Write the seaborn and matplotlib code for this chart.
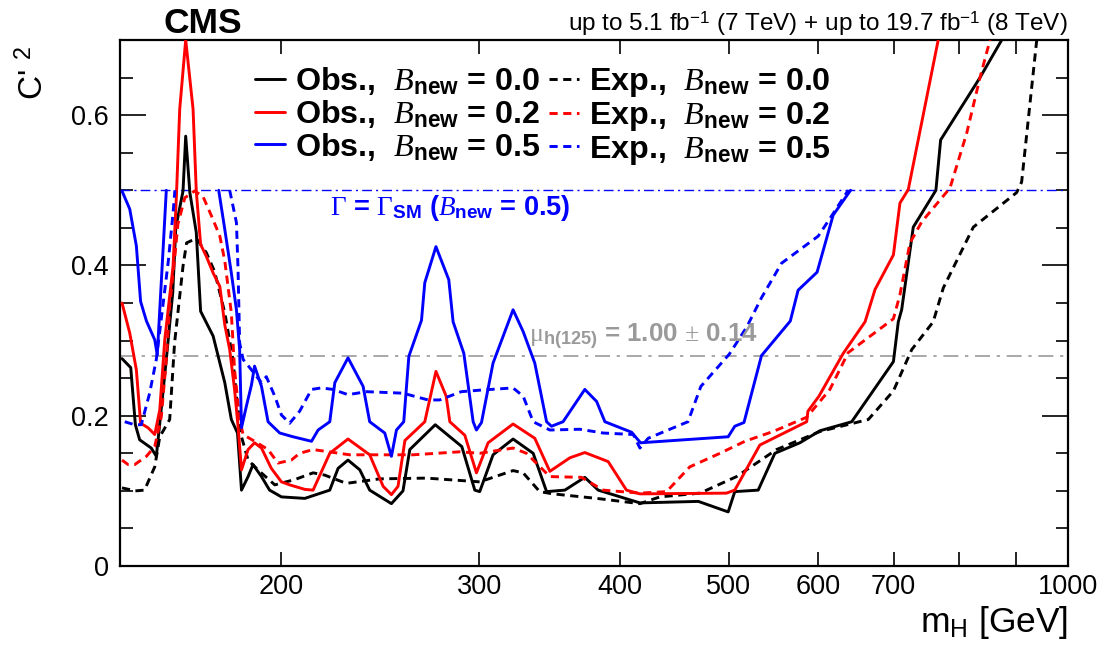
import matplotlib
matplotlib.use("Agg")
import matplotlib.pyplot as plt
from matplotlib.lines import Line2D
from matplotlib.ticker import FixedLocator, FixedFormatter, NullLocator, MultipleLocator, FuncFormatter
import seaborn as sns

# C'^2 limits vs m_H
# B_new = 0.0
m_obs00 = [144.6, 147.2, 148.6, 149.9, 153.5, 155.1, 156.2, 158.3, 160.4, 161.4, 163.8, 164.7, 166.1, 168.3, 169.8,
           174.2, 178.4, 180.8, 183.1, 184.6, 187.1, 189.0, 192.3, 195.5, 200.3, 210.1, 221.1, 224.9, 229.5, 235.1,
           239.9, 250.8, 256.8, 260.4, 274.3, 289.6, 297.4, 300.4, 308.7, 321.6, 335.1, 344.4, 357.5, 372.4, 382.7,
           416.8, 469.7, 499.2, 506.0, 530.8, 549.2, 578.0, 602.2, 642.6, 699.8, 706.8, 711.7, 728.8, 763.3, 770.7,
           835.3, 873.2]
c_obs00 = [0.276, 0.264, 0.188, 0.168, 0.157, 0.146, 0.190, 0.275, 0.364, 0.450, 0.499, 0.572, 0.497, 0.444, 0.339,
           0.306, 0.244, 0.195, 0.177, 0.101, 0.119, 0.135, 0.119, 0.101, 0.092, 0.090, 0.101, 0.130, 0.141, 0.128,
           0.101, 0.083, 0.100, 0.155, 0.188, 0.159, 0.101, 0.099, 0.148, 0.169, 0.150, 0.099, 0.101, 0.118, 0.101,
           0.084, 0.086, 0.072, 0.099, 0.101, 0.150, 0.164, 0.180, 0.192, 0.272, 0.325, 0.341, 0.451, 0.500, 0.567,
           0.650, 0.700]
m_exp00 = [144.6, 148.6, 151.4, 154.6, 156.2, 159.4, 161.0, 163.8, 165.0, 168.3, 171.8, 174.7, 178.4, 181.4, 182.7,
           184.6, 187.1, 190.9, 197.6, 205.8, 213.7, 218.8, 228.7, 244.9, 269.4, 300.4, 321.6, 328.3, 339.6, 349.0,
           381.5, 416.8, 434.2, 471.3, 507.8, 551.1, 602.2, 664.8, 699.8, 726.5, 759.1, 774.9, 824.0, 900.3, 909.5,
           938.0]
c_exp00 = [0.104, 0.100, 0.101, 0.132, 0.172, 0.195, 0.297, 0.399, 0.430, 0.436, 0.417, 0.392, 0.337, 0.275, 0.226,
           0.172, 0.141, 0.128, 0.108, 0.115, 0.124, 0.121, 0.110, 0.116, 0.117, 0.112, 0.127, 0.124, 0.099, 0.096,
           0.090, 0.083, 0.092, 0.097, 0.119, 0.155, 0.179, 0.195, 0.233, 0.288, 0.325, 0.370, 0.451, 0.497, 0.511,
           0.700]

# B_new = 0.2
m_obs02 = [144.6, 146.9, 148.9, 150.2, 152.5, 154.6, 156.2, 157.8, 160.5, 161.6, 162.7, 164.7, 167.2, 168.3, 169.8,
           171.8, 174.2, 176.6, 178.4, 180.2, 182.0, 183.3, 184.6, 187.1, 189.6, 192.3, 196.2, 200.3, 203.7, 210.1,
           213.7, 221.1, 229.5, 239.9, 246.6, 250.8, 254.2, 257.8, 268.5, 274.7, 280.5, 282.6, 291.4, 298.4, 305.6,
           321.6, 336.2, 346.7, 361.2, 372.4, 390.6, 405.5, 416.8, 497.5, 506.0, 532.6, 586.1, 587.6, 601.0, 631.6,
           660.4, 674.0, 699.8, 709.2, 721.4, 766.9]
c_obs02 = [0.350, 0.310, 0.261, 0.190, 0.184, 0.175, 0.208, 0.301, 0.399, 0.492, 0.608, 0.700, 0.608, 0.499, 0.428,
           0.412, 0.390, 0.372, 0.321, 0.288, 0.235, 0.186, 0.128, 0.155, 0.164, 0.157, 0.130, 0.112, 0.108, 0.102,
           0.101, 0.150, 0.169, 0.148, 0.106, 0.095, 0.106, 0.167, 0.192, 0.259, 0.226, 0.192, 0.174, 0.124, 0.164,
           0.189, 0.170, 0.126, 0.144, 0.151, 0.139, 0.101, 0.096, 0.097, 0.101, 0.161, 0.192, 0.206, 0.226, 0.283,
           0.325, 0.368, 0.414, 0.483, 0.501, 0.700]
m_exp02 = [144.6, 146.4, 148.4, 152.0, 154.6, 156.7, 158.3, 159.4, 161.0, 162.1, 164.4, 167.7, 170.6, 173.6, 176.6,
           178.4, 180.8, 182.0, 183.9, 185.2, 189.6, 194.9, 198.9, 204.4, 207.9, 213.7, 230.3, 262.1, 288.4, 300.4,
           321.6, 330.5, 346.7, 369.9, 386.6, 416.8, 440.1, 461.6, 490.9, 516.6, 547.2, 586.1, 614.6, 638.0, 699.8,
           709.2, 723.9, 741.5, 785.6, 812.9, 835.3, 852.6]
c_exp02 = [0.141, 0.135, 0.135, 0.146, 0.159, 0.199, 0.275, 0.346, 0.408, 0.455, 0.490, 0.499, 0.492, 0.466, 0.439,
           0.406, 0.337, 0.261, 0.195, 0.175, 0.166, 0.155, 0.137, 0.141, 0.150, 0.155, 0.148, 0.148, 0.152, 0.150,
           0.157, 0.150, 0.119, 0.118, 0.101, 0.097, 0.099, 0.132, 0.150, 0.166, 0.179, 0.198, 0.235, 0.284, 0.329,
           0.361, 0.430, 0.458, 0.503, 0.576, 0.650, 0.700]

# B_new = 0.5 (only drawn below Gamma = Gamma_SM, two pieces each)
m_obs05_lo = [144.6, 146.9, 148.9, 150.2, 152.0, 154.6, 155.4, 156.2, 158.3]
c_obs05_lo = [0.499, 0.475, 0.426, 0.352, 0.326, 0.301, 0.281, 0.341, 0.500]
m_obs05_hi = [176.2, 178.4, 180.8, 182.7, 183.9, 184.6, 186.4, 188.4, 189.6, 192.3, 194.9, 199.6, 205.1, 213.0, 215.9,
              221.1, 223.4, 229.5, 236.7, 239.9, 247.4, 250.8, 253.4, 257.2, 259.9, 266.7, 268.5, 274.7, 282.0, 284.5,
              290.8, 296.4, 298.4, 301.5, 308.7, 321.6, 328.3, 336.2, 344.4, 347.9, 356.2, 372.4, 381.5, 388.0, 409.8,
              417.3, 499.2, 506.0, 515.6, 534.4, 566.8, 575.9, 598.7, 618.7, 641.1]
c_obs05_hi = [0.500, 0.448, 0.390, 0.341, 0.288, 0.184, 0.212, 0.241, 0.266, 0.239, 0.192, 0.177, 0.172, 0.166, 0.181,
              0.192, 0.244, 0.277, 0.239, 0.192, 0.177, 0.146, 0.181, 0.192, 0.279, 0.327, 0.377, 0.425, 0.381, 0.325,
              0.283, 0.192, 0.181, 0.191, 0.270, 0.341, 0.312, 0.270, 0.192, 0.186, 0.192, 0.235, 0.219, 0.192, 0.178,
              0.164, 0.172, 0.186, 0.191, 0.280, 0.326, 0.367, 0.391, 0.467, 0.500]
m_exp05_lo = [145.4, 148.4, 150.4, 153.0, 155.1, 157.3, 158.9, 160.5, 161.1]
c_exp05_lo = [0.192, 0.188, 0.188, 0.230, 0.275, 0.350, 0.404, 0.470, 0.500]
m_exp05_hi = [180.2, 182.7, 183.3, 183.9, 185.2, 188.4, 192.3, 194.2, 197.6, 200.3, 203.7, 207.9, 213.0, 217.3, 222.6,
              229.5, 238.3, 256.8, 270.3, 276.8, 289.3, 300.4, 321.6, 328.3, 335.1, 346.7, 368.6, 386.6, 411.2, 416.8,
              423.9, 459.8, 472.1, 500.4, 518.5, 534.4, 556.8, 578.0, 600.1, 618.7, 638.0]
c_exp05_hi = [0.500, 0.457, 0.395, 0.297, 0.275, 0.261, 0.244, 0.252, 0.226, 0.201, 0.190, 0.206, 0.235, 0.237, 0.235,
              0.228, 0.232, 0.230, 0.221, 0.221, 0.232, 0.234, 0.237, 0.226, 0.192, 0.181, 0.182, 0.177, 0.175, 0.157,
              0.170, 0.192, 0.239, 0.282, 0.318, 0.357, 0.403, 0.421, 0.439, 0.469, 0.500]

gamma_sm_level = 0.5
mu_level = 0.28

x_ticks = [200, 300, 400, 500, 600, 700, 800, 900, 1000]
x_tick_labels = ['200', '300', '400', '500', '600', '700', '', '', '1000']

sns.set_style("ticks")
plt.rcParams['font.family'] = ['Liberation Sans', 'DejaVu Sans']
plt.rcParams['mathtext.fontset'] = 'custom'
plt.rcParams['mathtext.rm'] = 'Liberation Serif'
plt.rcParams['mathtext.it'] = 'Liberation Serif:italic'
plt.rcParams['mathtext.bf'] = 'Liberation Sans:bold'
plt.rcParams['mathtext.sf'] = 'Liberation Sans'
for k in ['text.color', 'axes.labelcolor', 'xtick.color', 'ytick.color', 'axes.edgecolor']:
    plt.rcParams[k] = 'black'

fig = plt.figure(figsize=(11.1, 6.46), dpi=100)
ax = fig.add_axes([0.1081, 0.1238, 0.8541, 0.8143])

dash = (0, (2.8, 1.9))
lw = 2.1
curves = [
    (m_obs00, c_obs00, 'black', '-'),
    (m_exp00, c_exp00, 'black', dash),
    (m_obs02, c_obs02, 'red', '-'),
    (m_exp02, c_exp02, 'red', dash),
    (m_obs05_lo, c_obs05_lo, 'blue', '-'),
    (m_obs05_hi, c_obs05_hi, 'blue', '-'),
    (m_exp05_lo, c_exp05_lo, 'blue', dash),
    (m_exp05_hi, c_exp05_hi, 'blue', dash),
]
for m, c, col, ls in curves:
    sns.lineplot(x=m, y=c, ax=ax, color=col, linestyle=ls, linewidth=lw, sort=False, estimator=None, zorder=3)

ax.axhline(gamma_sm_level, color='blue', lw=1.0, ls=(0, (7, 3, 1.5, 3)), zorder=2)
ax.axhline(mu_level, color='#9a9a9a', lw=1.2, ls=(0, (9, 4, 2, 4)), zorder=2)

ax.set_xscale('log')
ax.set_xlim(144, 1000)
ax.set_ylim(0, 0.7)
ax.xaxis.set_major_locator(FixedLocator(x_ticks))
ax.xaxis.set_major_formatter(FixedFormatter(x_tick_labels))
ax.xaxis.set_minor_locator(NullLocator())
ax.yaxis.set_major_locator(MultipleLocator(0.2))
ax.yaxis.set_minor_locator(MultipleLocator(0.05))
ax.yaxis.set_major_formatter(FuncFormatter(lambda v, p: '0' if abs(v) < 1e-9 else '%.1f' % v))
ax.tick_params(which='both', direction='in', top=True, right=True, width=1.2, colors='black', labelsize=19.5)
ax.tick_params(axis='y', which='major', length=19, pad=8)
ax.tick_params(axis='y', which='minor', length=9)
ax.tick_params(axis='x', which='major', length=10, pad=6)
for s in ax.spines.values():
    s.set_linewidth(1.6)
    s.set_color('black')
ax.set_xlabel('')
ax.set_ylabel('')

handles = [
    Line2D([], [], color='black', lw=lw, ls='-'),
    Line2D([], [], color='red', lw=lw, ls='-'),
    Line2D([], [], color='blue', lw=lw, ls='-'),
    Line2D([], [], color='black', lw=lw, ls=dash),
    Line2D([], [], color='red', lw=lw, ls=dash),
    Line2D([], [], color='blue', lw=lw, ls=dash),
]
labels = [
    r'Obs.,  $\mathit{B}_{\mathbf{new}}$ = 0.0',
    r'Obs.,  $\mathit{B}_{\mathbf{new}}$ = 0.2',
    r'Obs.,  $\mathit{B}_{\mathbf{new}}$ = 0.5',
    r'Exp.,  $\mathit{B}_{\mathbf{new}}$ = 0.0',
    r'Exp.,  $\mathit{B}_{\mathbf{new}}$ = 0.2',
    r'Exp.,  $\mathit{B}_{\mathbf{new}}$ = 0.5',
]
ax.legend(handles=handles, labels=labels, ncol=2, loc='upper left', bbox_to_anchor=(0.142, 0.952),
          frameon=False, prop={'size': 23.2, 'weight': 'bold'}, handlelength=0.95, handletextpad=0.3,
          columnspacing=0.25, labelspacing=0.02, borderaxespad=0, borderpad=0)

ax.text(221, 0.497, r'$\Gamma$ = $\Gamma_{\mathbf{SM}}$ ($\mathit{B}_{\mathbf{new}}$ = 0.5)',
        color='blue', fontsize=19.5, fontweight='bold', ha='left', va='top')
ax.text(332, 0.297, r'$\mathrm{\mu}_{\mathbf{h(125)}}$ = 1.00 $\pm$ 0.14',
        color='#9a9a9a', fontsize=18.6, fontweight='bold', ha='left', va='baseline')

fig.text(0.147, 0.949, 'CMS', fontsize=25.5, fontweight='bold', ha='left', va='baseline')
fig.text(0.962, 0.952, r'up to 5.1 fb$^{\mathsf{-1}}$ (7 TeV) + up to 19.7 fb$^{\mathsf{-1}}$ (8 TeV)',
         fontsize=17.5, ha='right', va='baseline')
fig.text(0.962, 0.022, r'm$_{\mathsf{H}}$ [GeV]', fontsize=25.5, ha='right', va='baseline')
fig.text(0.030, 0.928, r"C' $^{\mathsf{2}}$", fontsize=24, rotation=90, ha='center', va='top')

fig.savefig('out.png', dpi=100)
